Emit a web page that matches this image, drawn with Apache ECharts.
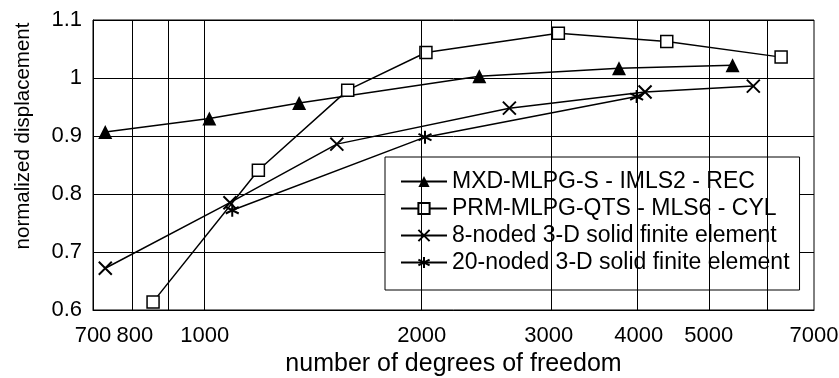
<!DOCTYPE html>
<html lang="en">
<head>
    <meta charset="UTF-8">
    <title>normalized displacement</title>
    <script src="https://cdn.jsdelivr.net/npm/echarts@6/dist/echarts.min.js"></script>
    <style>
        html, body { margin: 0; padding: 0; background: #fff; }
        #chart { width: 839px; height: 378px; }
    </style>
</head>
<body>
<div id="chart"></div>
<script>
    // values (x = degrees of freedom, y = normalized displacement)
    const mxdDof = [728, 1015, 1352, 2404, 3755, 5397];
    const mxdDisp = [0.907, 0.930, 0.957, 1.003, 1.017, 1.022];
    const prmDof = [848, 1187, 1579, 2027, 3094, 4374, 6302];
    const prmDisp = [0.614, 0.841, 0.979, 1.044, 1.077, 1.063, 1.036];
    const fe8Dof = [728, 1084, 1525, 2646, 4081, 5767];
    const fe8Disp = [0.672, 0.785, 0.886, 0.948, 0.976, 0.986];
    const fe20Dof = [1092, 2021, 3973];
    const fe20Disp = [0.772, 0.898, 0.968];

    const seriesNames = [
        'MXD-MLPG-S - IMLS2 - REC',
        'PRM-MLPG-QTS - MLS6 - CYL',
        '8-noded 3-D solid finite element',
        '20-noded 3-D solid finite element'
    ];
    const xTickLabels = [700, 800, 1000, 2000, 3000, 4000, 5000, 7000];
    const xGridLines = [800, 900, 1000, 2000, 3000, 4000, 5000, 6000];

    const FONT = "'Liberation Sans', Arial, sans-serif";
    const lg = v => Math.log10(v);
    const pairs = (xs, ys) => xs.map((x, i) => [lg(x), ys[i]]);

    const crossPath = 'path://M0,0L10,10M10,0L0,10';
    const starPath = 'path://M5,0L5,10M0.7,2.5L9.3,7.5M0.7,7.5L9.3,2.5';

    const chart = echarts.init(document.getElementById('chart'));
    const baseLine = {
        type: 'line',
        color: '#000',
        lineStyle: { color: '#000', width: 1.5 },
        animation: false
    };

    chart.setOption({
        textStyle: { fontFamily: FONT, color: '#000' },
        grid: {
            left: 93, right: 25, top: 20, bottom: 68,
            outerBoundsMode: 'none',
            show: true, borderColor: '#000', borderWidth: 1
        },
        legend: {
            orient: 'vertical',
            left: 385, top: 157,
            padding: [13, 10, 16, 15],
            itemWidth: 46, itemHeight: 14, itemGap: 4,
            backgroundColor: '#fff',
            borderColor: '#000', borderWidth: 1,
            textStyle: { fontFamily: FONT, fontSize: 23, color: '#000' },
            data: seriesNames
        },
        xAxis: {
            type: 'value',
            min: lg(700), max: lg(7000),
            name: 'number of degrees of freedom',
            nameLocation: 'middle', nameGap: 42,
            nameTextStyle: { fontFamily: FONT, fontSize: 25, color: '#000' },
            axisLine: { lineStyle: { color: '#000', width: 1 } },
            axisTick: { show: false },
            splitLine: { show: false },
            axisLabel: {
                customValues: xTickLabels.map(lg),
                formatter: v => String(Math.round(Math.pow(10, v))),
                fontFamily: FONT, fontSize: 22, color: '#000', margin: 15
            }
        },
        yAxis: {
            type: 'value',
            min: 0.6, max: 1.1, interval: 0.1,
            name: 'normalized displacement',
            nameLocation: 'middle', nameGap: 59,
            nameTextStyle: {
                fontFamily: FONT, fontSize: 20.5, color: '#000',
                padding: [0, 0, 0, 58]
            },
            axisLine: { show: true, lineStyle: { color: '#000', width: 1 } },
            axisTick: { show: false },
            splitLine: { show: true, lineStyle: { color: '#000', width: 1 } },
            axisLabel: {
                formatter: v => String(+v.toFixed(1)),
                fontFamily: FONT, fontSize: 22, color: '#000', margin: 11
            }
        },
        series: [
            Object.assign({}, baseLine, {
                name: seriesNames[0],
                data: pairs(mxdDof, mxdDisp),
                symbol: 'triangle', symbolSize: 14,
                itemStyle: { color: '#000' },
                markLine: {
                    silent: true, symbol: 'none', animation: false,
                    label: { show: false },
                    lineStyle: { color: '#000', width: 1, type: 'solid' },
                    data: xGridLines.map(v => ({ xAxis: lg(v) }))
                }
            }),
            Object.assign({}, baseLine, {
                name: seriesNames[1],
                data: pairs(prmDof, prmDisp),
                symbol: 'rect', symbolSize: 12,
                itemStyle: { color: '#fff', borderColor: '#000', borderWidth: 1.5 }
            }),
            Object.assign({}, baseLine, {
                name: seriesNames[2],
                data: pairs(fe8Dof, fe8Disp),
                symbol: crossPath, symbolSize: 13,
                itemStyle: { color: 'none', borderColor: '#000', borderWidth: 2 }
            }),
            Object.assign({}, baseLine, {
                name: seriesNames[3],
                data: pairs(fe20Dof, fe20Disp),
                symbol: starPath, symbolSize: 13,
                itemStyle: { color: 'none', borderColor: '#000', borderWidth: 2 }
            })
        ]
    });
</script>
</body>
</html>
